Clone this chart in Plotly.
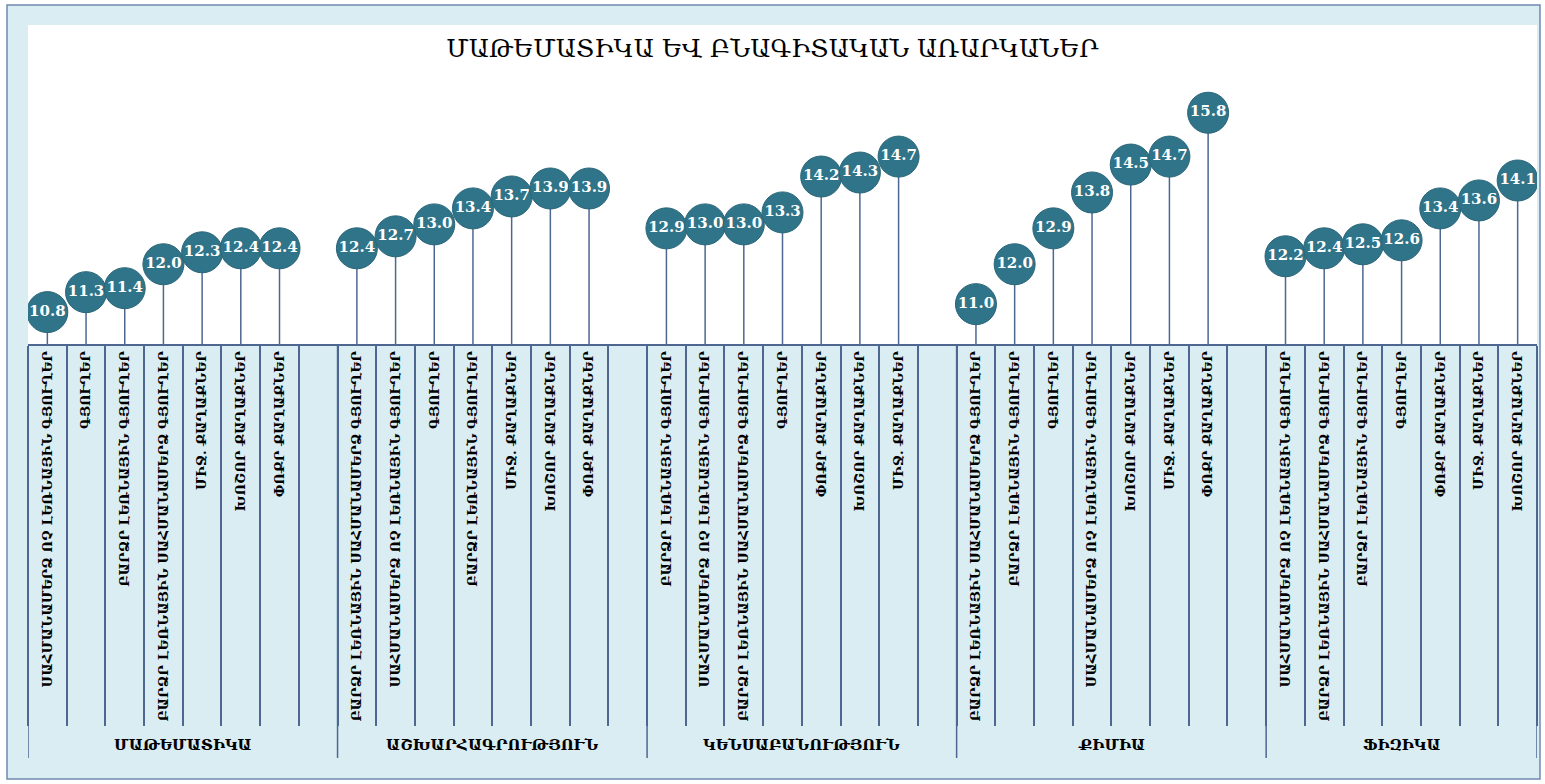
import plotly.graph_objects as go

chart_title = "ՄԱԹԵՄԱՏԻԿԱ ԵՎ ԲՆԱԳԻՏԱԿԱՆ ԱՌԱՐԿԱՆԵՐ"
subjects = ["ՄԱԹԵՄԱՏԻԿԱ", "ԱՇԽԱՐՀԱԳՐՈՒԹՅՈՒՆ", "ԿԵՆՍԱԲԱՆՈՒԹՅՈՒՆ", "ՔԻՄԻԱ", "ՖԻԶԻԿԱ"]

# settlement types
S = "ՍԱՀՄԱՆԱՄԵՐՁ ՈՉ ԼԵՌՆԱՅԻՆ ԳՅՈՒՂԵՐ"
G = "ԳՅՈՒՂԵՐ"
B = "ԲԱՐՁՐ ԼԵՌՆԱՅԻՆ ԳՅՈՒՂԵՐ"
BS = "ԲԱՐՁՐ ԼԵՌՆԱՅԻՆ ՍԱՀՄԱՆԱՄԵՐՁ ԳՅՈՒՂԵՐ"
M = "ՄԻՋ. ՔԱՂԱՔՆԵՐ"
X = "ԽՈՇՈՐ ՔԱՂԱՔՆԵՐ"
P = "ՓՈՔՐ ՔԱՂԱՔՆԵՐ"

math_labels = [S, G, B, BS, M, X, P]
math_values = [10.8, 11.3, 11.4, 12.0, 12.3, 12.4, 12.4]

geo_labels = [BS, S, G, B, M, X, P]
geo_values = [12.4, 12.7, 13.0, 13.4, 13.7, 13.9, 13.9]

bio_labels = [B, S, BS, G, P, X, M]
bio_values = [12.9, 13.0, 13.0, 13.3, 14.2, 14.3, 14.7]

chem_labels = [BS, B, G, S, X, M, P]
chem_values = [11.0, 12.0, 12.9, 13.8, 14.5, 14.7, 15.8]

phys_labels = [S, BS, B, G, P, M, X]
phys_values = [12.2, 12.4, 12.5, 12.6, 13.4, 13.6, 14.1]

all_labels = [math_labels, geo_labels, bio_labels, chem_labels, phys_labels]
all_values = [math_values, geo_values, bio_values, chem_values, phys_values]

BASE = 10
FONT = "DejaVu Serif"
DOT = "#2F7489"
LINE = "#4D6791"
BG = "#DAEDF3"

# build the category axis: 7 points per subject + one blank slot between subjects
cat_ids, cat_text, points = [], [], []
group_start, group_end = [], []
for g, (labs, vals) in enumerate(zip(all_labels, all_values)):
    group_start.append(len(cat_ids))
    for i, (lab, v) in enumerate(zip(labs, vals)):
        cid = f"{g}-{i}"
        cat_ids.append(cid)
        cat_text.append(lab)
        points.append((cid, v))
    if g < len(subjects) - 1:
        cat_ids.append(f"{g}-gap")
        cat_text.append("")
    group_end.append(len(cat_ids))

fig = go.Figure()

# stems
sx, sy = [], []
for cid, v in points:
    sx += [cid, cid, None]
    sy += [BASE, v, None]
fig.add_trace(go.Scatter(x=sx, y=sy, mode="lines", line=dict(color=LINE, width=1.5),
                         hoverinfo="skip", showlegend=False))

# one trace per point so the next circle sits over the previous label (like Excel)
for cid, v in points:
    fig.add_trace(go.Scatter(
        x=[cid], y=[v], mode="markers+text", text=[f"{v:.1f}"],
        textposition="middle center",
        textfont=dict(family=FONT, size=15, color="white", weight="bold"),
        marker=dict(size=41, color=DOT, line=dict(color="#2A6679", width=1)),
        showlegend=False))

shapes = [
    # outer frame
    dict(type="rect", xref="paper", yref="paper", x0=-21 / 1509, x1=1512 / 1509,
         y0=-435 / 319, y1=339 / 319, fillcolor=BG, line=dict(color="#7088B0", width=1.5),
         layer="below"),
    # white plot area
    dict(type="rect", xref="paper", yref="paper", x0=0, x1=1, y0=0, y1=1,
         fillcolor="white", line=dict(width=0), layer="below"),
]
# subject dividers
for s in group_start + [len(cat_ids)]:
    shapes.append(dict(type="line", xref="x", yref="paper", x0=s - 0.5, x1=s - 0.5,
                       y0=0, y1=-414 / 319, line=dict(color=LINE, width=1.5), layer="above"))

annotations = []
for g, name in enumerate(subjects):
    mid = (group_start[g] + group_end[g] - 1) / 2
    annotations.append(dict(x=mid, xref="x", y=-401 / 319, yref="paper", text=name,
                            showarrow=False, yanchor="middle",
                            font=dict(family=FONT, size=15, color="black", weight="bold")))

fig.update_layout(
    width=1545, height=784,
    margin=dict(l=28, r=8, t=25, b=440),
    paper_bgcolor="white", plot_bgcolor="white",
    title=dict(text=chart_title, x=0.5, xanchor="center", y=1 - 48 / 784, yanchor="middle",
               font=dict(family=FONT, size=25, color="black")),
    shapes=shapes, annotations=annotations,
    xaxis=dict(type="category", categoryorder="array", categoryarray=cat_ids,
               tickmode="array", tickvals=cat_ids, ticktext=cat_text,
               range=[-0.5, len(cat_ids) - 0.5], tickangle=-90,
               tickson="boundaries", ticks="outside", ticklen=380, tickwidth=1.5,
               tickcolor=LINE, showline=True, linecolor=LINE, linewidth=1.5,
               showgrid=False, zeroline=False,
               tickfont=dict(family=FONT, size=13.3, color="black", weight="bold")),
    yaxis=dict(range=[BASE, 18], showgrid=False, zeroline=False, showticklabels=False,
               showline=False, ticks=""),
)

fig.write_html("out.html", config={"displayModeBar": False},
               post_script="document.body.style.margin='0';")
